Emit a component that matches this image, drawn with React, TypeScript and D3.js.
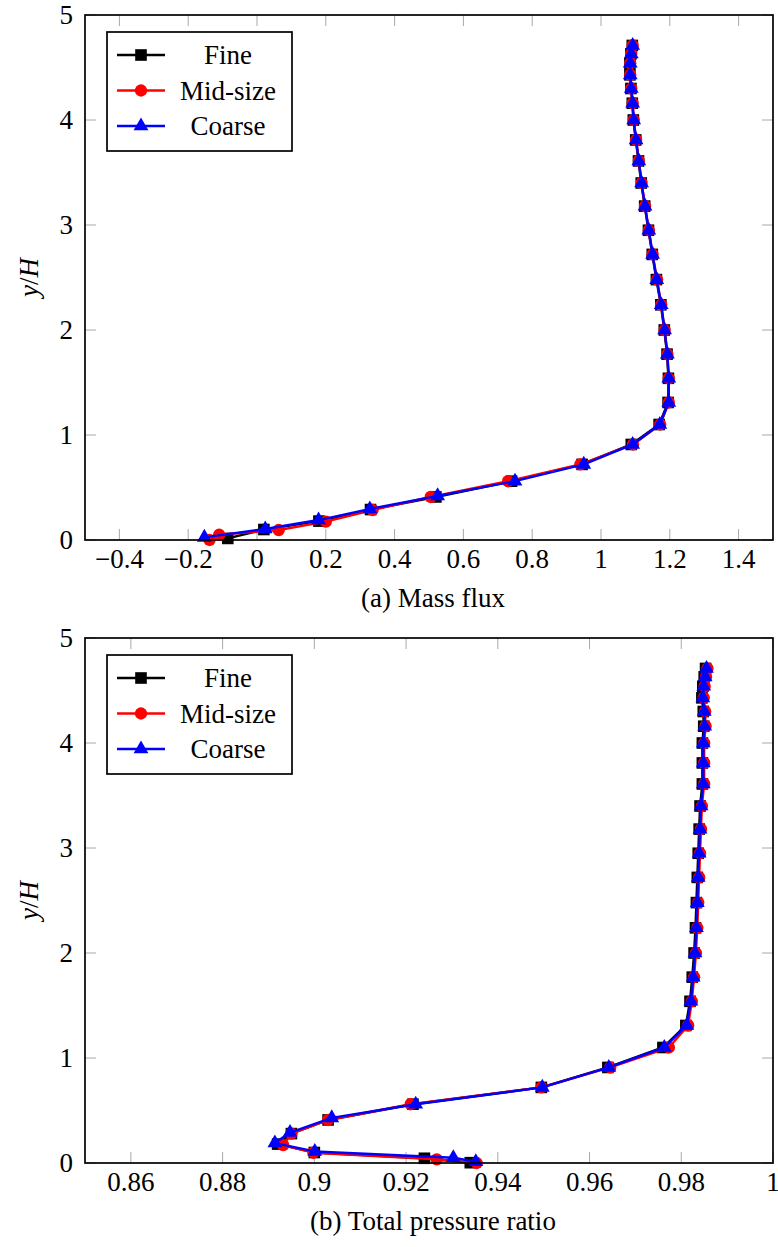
import React from "react";
import * as d3 from "d3";

// ---- (a) mass flux ----
const fluxFineY = [0.015, 0.10, 0.18, 0.29, 0.41, 0.56, 0.72, 0.91, 1.10, 1.31, 1.54, 1.77, 2.00, 2.24, 2.48, 2.72, 2.95, 3.18, 3.40, 3.61, 3.81, 4.00, 4.16, 4.30, 4.43, 4.54, 4.63, 4.71];
const fluxFineX = [-0.085, 0.02, 0.18, 0.33, 0.52, 0.74, 0.945, 1.088, 1.169, 1.195, 1.196, 1.192, 1.184, 1.174, 1.161, 1.149, 1.138, 1.127, 1.117, 1.109, 1.101, 1.094, 1.091, 1.087, 1.084, 1.084, 1.087, 1.091];
const fluxMidY = [0.0, 0.05, 0.095, 0.175, 0.286, 0.41, 0.56, 0.72, 0.91, 1.10, 1.31, 1.54, 1.77, 2.00, 2.24, 2.48, 2.72, 2.95, 3.18, 3.40, 3.61, 3.81, 4.00, 4.16, 4.30, 4.43, 4.54, 4.63, 4.71];
const fluxMidX = [-0.138, -0.11, 0.063, 0.20, 0.336, 0.505, 0.73, 0.94, 1.093, 1.172, 1.197, 1.197, 1.193, 1.185, 1.175, 1.163, 1.150, 1.139, 1.128, 1.118, 1.110, 1.102, 1.095, 1.092, 1.088, 1.085, 1.085, 1.088, 1.092];
const fluxCoarseY = [0.025, 0.105, 0.19, 0.295, 0.42, 0.56, 0.72, 0.91, 1.10, 1.31, 1.54, 1.77, 2.00, 2.24, 2.48, 2.72, 2.95, 3.18, 3.40, 3.61, 3.81, 4.00, 4.16, 4.30, 4.43, 4.54, 4.63, 4.71];
const fluxCoarseX = [-0.153, 0.024, 0.179, 0.328, 0.525, 0.75, 0.95, 1.092, 1.171, 1.197, 1.197, 1.193, 1.185, 1.175, 1.162, 1.150, 1.139, 1.128, 1.118, 1.110, 1.102, 1.095, 1.092, 1.088, 1.085, 1.085, 1.088, 1.092];
const fluxTicks = [-0.4, -0.2, 0, 0.2, 0.4, 0.6, 0.8, 1, 1.2, 1.4];

// ---- (b) total pressure ratio ----
const ptFineY = [0.003, 0.045, 0.10, 0.18, 0.28, 0.41, 0.56, 0.72, 0.91, 1.10, 1.31, 1.54, 1.77, 2.00, 2.24, 2.48, 2.72, 2.95, 3.18, 3.40, 3.61, 3.81, 4.00, 4.16, 4.30, 4.43, 4.54, 4.63, 4.71];
const ptFineX = [0.934, 0.924, 0.900, 0.892, 0.895, 0.903, 0.9215, 0.9495, 0.964, 0.976, 0.981, 0.9819, 0.9824, 0.9828, 0.9831, 0.9833, 0.9835, 0.9837, 0.9839, 0.9841, 0.9846, 0.9846, 0.9846, 0.9849, 0.9848, 0.9845, 0.9847, 0.9850, 0.9853];
const ptMidY = [0.0, 0.035, 0.098, 0.17, 0.28, 0.41, 0.56, 0.72, 0.91, 1.10, 1.31, 1.54, 1.77, 2.00, 2.24, 2.48, 2.72, 2.95, 3.18, 3.40, 3.61, 3.81, 4.00, 4.16, 4.30, 4.43, 4.54, 4.63, 4.71];
const ptMidX = [0.9354, 0.9267, 0.8998, 0.8932, 0.895, 0.903, 0.921, 0.9495, 0.9645, 0.9773, 0.9815, 0.9823, 0.9828, 0.9832, 0.9835, 0.9837, 0.9839, 0.9841, 0.9843, 0.9845, 0.9850, 0.9850, 0.9850, 0.9853, 0.9852, 0.9849, 0.9851, 0.9854, 0.9857];
const ptCoarseY = [0.012, 0.05, 0.11, 0.19, 0.29, 0.43, 0.56, 0.72, 0.91, 1.10, 1.31, 1.54, 1.77, 2.00, 2.24, 2.48, 2.72, 2.95, 3.18, 3.40, 3.61, 3.81, 4.00, 4.16, 4.30, 4.43, 4.54, 4.63, 4.71];
const ptCoarseX = [0.9352, 0.9303, 0.9001, 0.8914, 0.8947, 0.9038, 0.9221, 0.9497, 0.9642, 0.9763, 0.9812, 0.9821, 0.9826, 0.9830, 0.9833, 0.9835, 0.9837, 0.9839, 0.9841, 0.9843, 0.9848, 0.9848, 0.9848, 0.9851, 0.9850, 0.9847, 0.9849, 0.9852, 0.9855];
const ptTicks = [0.86, 0.88, 0.9, 0.92, 0.94, 0.96, 0.98, 1];

const yTicks = [0, 1, 2, 3, 4, 5];
const seriesNames = ["Fine", "Mid-size", "Coarse"];
const seriesColors = ["#000000", "#ff0000", "#0000ff"];
const seriesMarkers = [d3.symbolSquare, d3.symbolCircle, d3.symbolTriangle];
const markerSizes = [135, 120, 95];

const FONT = '"Liberation Serif", "DejaVu Serif", serif';
const FS = 27;
const W = 778, H = 1247;
const left = 85, right = 773, plotH = 525;

const fmt = (v: number) => (v < 0 ? "\u2212" : "") + String(Math.abs(v));

function Panel({ top, domain, ticks, caption, xs, ys }: any) {
  const x = d3.scaleLinear().domain(domain).range([left, right]);
  const y = d3.scaleLinear().domain([0, 5]).range([top + plotH, top]);
  const line = d3.line<[number, number]>().x(d => x(d[0])).y(d => y(d[1]));
  const bottom = top + plotH;

  return (
    <g>
      {/* ticks, inside on all four sides */}
      {ticks.map((t: number) => (
        <g key={"xt" + t} stroke="#a8a8a8" strokeWidth={1}>
          <line x1={x(t)} x2={x(t)} y1={bottom} y2={bottom - 11} />
          <line x1={x(t)} x2={x(t)} y1={top} y2={top + 11} />
        </g>
      ))}
      {yTicks.map(t => (
        <g key={"yt" + t} stroke="#a8a8a8" strokeWidth={1}>
          <line x1={left} x2={left + 11} y1={y(t)} y2={y(t)} />
          <line x1={right} x2={right - 11} y1={y(t)} y2={y(t)} />
        </g>
      ))}

      {/* series */}
      {xs.map((sx: number[], i: number) => {
        const pts = sx.map((v, k) => [v, ys[i][k]] as [number, number]);
        const sym = d3.symbol().type(seriesMarkers[i]).size(markerSizes[i]);
        return (
          <g key={"s" + i}>
            <path d={line(pts) || ""} fill="none" stroke={seriesColors[i]} strokeWidth={2.4} strokeLinejoin="round" />
            {pts.map((p, k) => (
              <path key={k} d={sym() || ""} transform={`translate(${x(p[0])},${y(p[1])})`} fill={seriesColors[i]} />
            ))}
          </g>
        );
      })}

      {/* frame */}
      <rect x={left} y={top} width={right - left} height={plotH} fill="none" stroke="#000" strokeWidth={1.7} />

      {/* tick labels */}
      {ticks.map((t: number) => (
        <text key={"xl" + t} x={x(t)} y={bottom + 28} textAnchor="middle">{fmt(t)}</text>
      ))}
      {yTicks.map(t => (
        <text key={"yl" + t} x={73} y={y(t) + 9} textAnchor="end">{t}</text>
      ))}

      <text transform={`translate(38,${top + plotH / 2}) rotate(-90)`} textAnchor="middle">
        <tspan fontStyle="italic">y</tspan>/<tspan fontStyle="italic">H</tspan>
      </text>
      <text x={433} y={bottom + 67} textAnchor="middle">{caption}</text>

      {/* legend */}
      <g transform={`translate(107,${top + 17})`}>
        <rect x={0} y={0} width={185} height={119} fill="#fff" stroke="#000" strokeWidth={1.7} />
        {seriesNames.map((name, i) => {
          const ly = 23 + i * 35.5;
          const sym = d3.symbol().type(seriesMarkers[i]).size(markerSizes[i]);
          return (
            <g key={name}>
              <line x1={10} x2={58} y1={ly} y2={ly} stroke={seriesColors[i]} strokeWidth={2.4} />
              <path d={sym() || ""} transform={`translate(34,${ly})`} fill={seriesColors[i]} />
              <text x={121} y={ly + 9} textAnchor="middle">{name}</text>
            </g>
          );
        })}
      </g>
    </g>
  );
}

export default function App() {
  return (
    <svg width={W} height={H}
      style={{ position: "absolute", left: 0, top: 0, background: "#fff", fontFamily: FONT, fontSize: FS }}>
      <Panel top={15} domain={[-0.5, 1.5]} ticks={fluxTicks} caption="(a) Mass flux"
        xs={[fluxFineX, fluxMidX, fluxCoarseX]} ys={[fluxFineY, fluxMidY, fluxCoarseY]} />
      <Panel top={638} domain={[0.85, 1.0]} ticks={ptTicks} caption="(b) Total pressure ratio"
        xs={[ptFineX, ptMidX, ptCoarseX]} ys={[ptFineY, ptMidY, ptCoarseY]} />
    </svg>
  );
}
